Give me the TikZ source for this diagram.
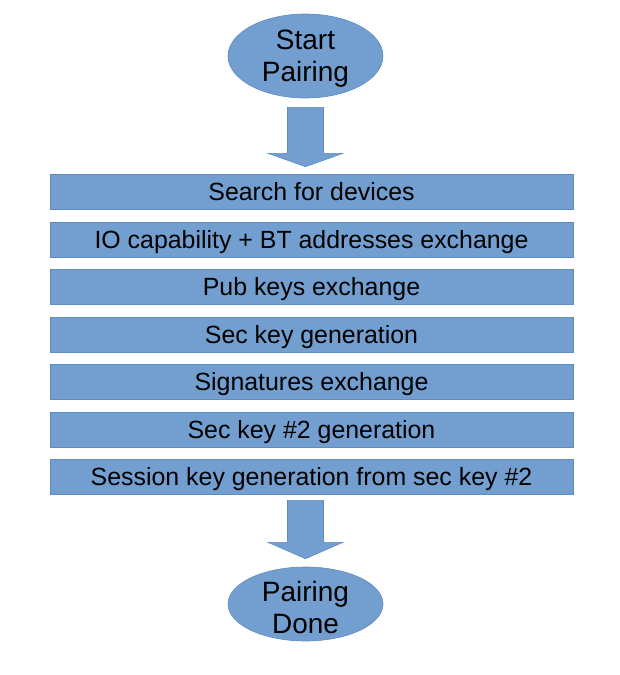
\documentclass[tikz,border=0pt]{standalone}
\usepackage{fontspec}
\setmainfont{Liberation Sans}
\usetikzlibrary{shapes.geometric,calc}
\definecolor{boxfill}{HTML}{729FCF}
\definecolor{boxline}{HTML}{5E8CC0}
\begin{document}
\begin{tikzpicture}[x=1pt,y=-1pt,
  stepbox/.style={draw=boxline, line width=0.6pt, fill=boxfill, minimum width=523pt, minimum height=35pt, inner sep=0pt, text height=18pt, text depth=1pt, font=\fontsize{24.9}{28}\selectfont},
  term/.style={ellipse, draw=boxline, line width=0.6pt, fill=boxfill, minimum width=155pt, minimum height=84pt, inner sep=0pt},
  termtext/.style={align=center, inner sep=0pt, font=\fontsize{28}{32}\selectfont},
  blockarrow/.style={draw=boxline, line width=0.6pt, fill=boxfill, line join=miter}]
\useasboundingbox (0,0) rectangle (620,675);
\node[term] (start) at (305.5,56) {};
\node[termtext] (startlabel) at ($(start.center)+(0,3)$) {Start\\Pairing};
\node[stepbox] (s1) at (311.5,191.5) {Search for devices};
\node[stepbox] (s2) at (311.5,239.5) {IO capability + BT addresses exchange};
\node[stepbox] (s3) at (311.5,286.5) {Pub keys exchange};
\node[stepbox] (s4) at (311.5,334.5) {Sec key generation};
\node[stepbox] (s5) at (311.5,381.5) {Signatures exchange};
\node[stepbox] (s6) at (311.5,429.5) {Sec key \#2 generation};
\node[stepbox] (s7) at (311.5,476.5) {Session key generation from sec key \#2};
\node[term, minimum height=74pt] (done) at (305.5,604) {};
\node[termtext] (donelabel) at ($(done.center)+(0,3)$) {Pairing\\Done};
\draw[blockarrow] ($(start.south)+(-18,9)$) -- ++(36,0) -- ++(0,46) -- ++(19.5,0)
  -- ($(s1.north -| start.south)+(0,-7)$)
  -- ($(start.south)+(-37.5,55)$) -- ($(start.south)+(-18,55)$) -- cycle;
\coordinate (a2) at ($(s7.south -| done.north)+(0,6)$);
\draw[blockarrow] ($(a2)+(-18,0)$) -- ++(36,0) -- ++(0,42) -- ++(19.5,0)
  -- ($(done.north)+(0,-8)$)
  -- ($(a2)+(-37.5,42)$) -- ($(a2)+(-18,42)$) -- cycle;
\end{tikzpicture}
\end{document}
